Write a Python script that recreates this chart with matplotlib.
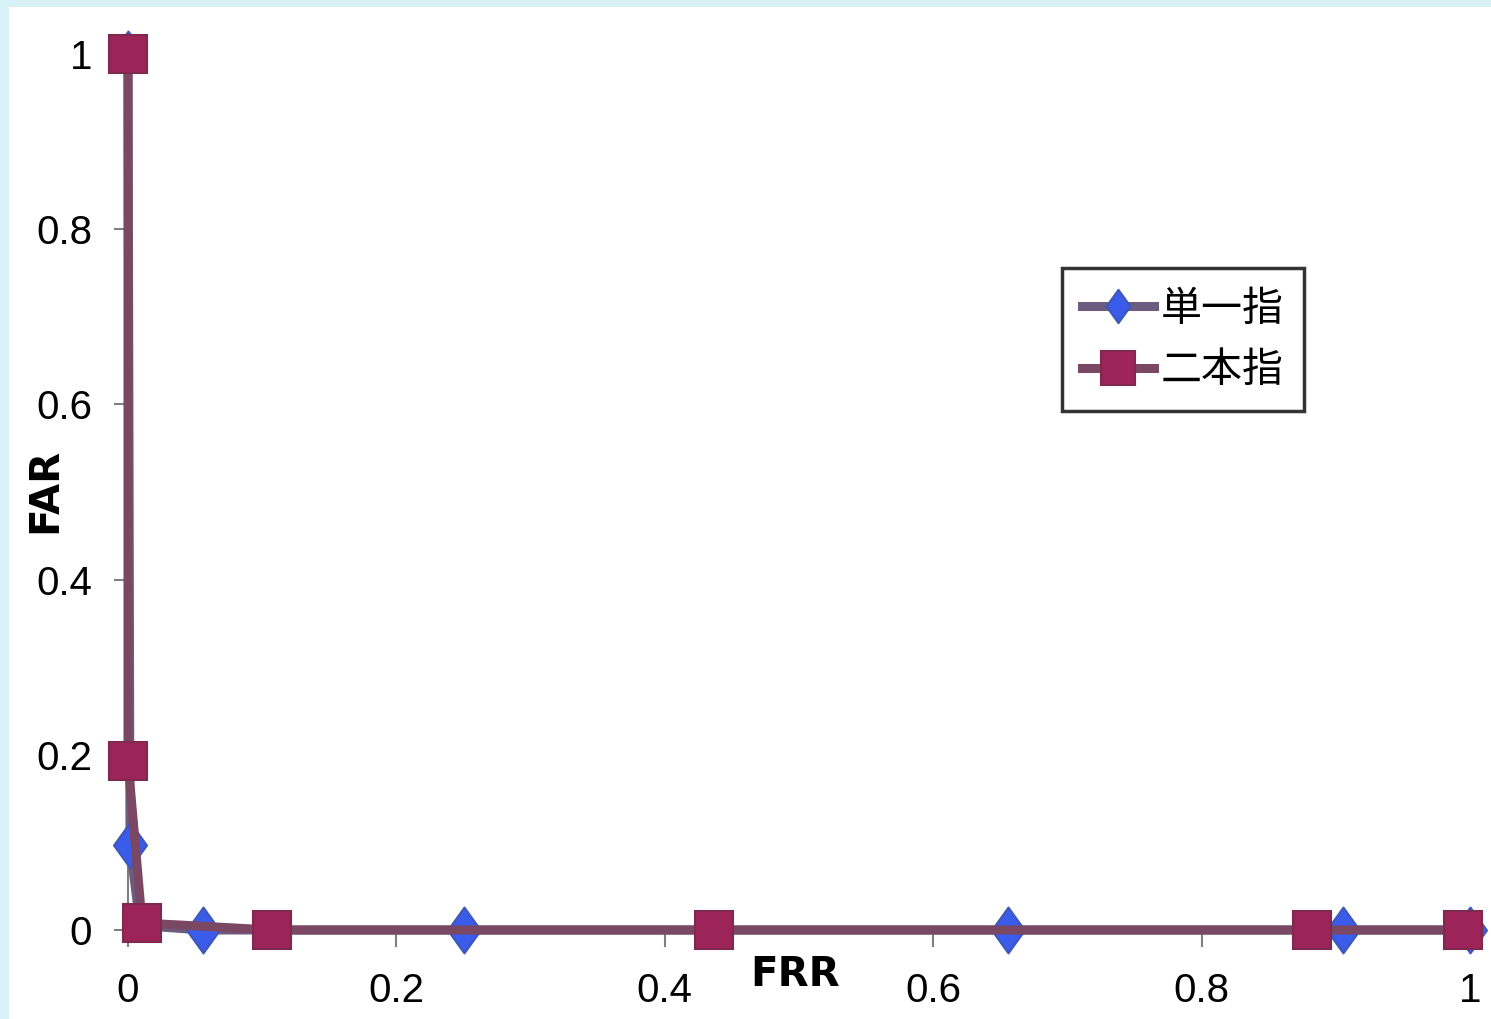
import matplotlib
matplotlib.use("Agg")
import matplotlib.pyplot as plt
from matplotlib import font_manager as fm
from matplotlib.patches import Rectangle
from matplotlib.path import Path

# Data
series_names = ["単一指", "二本指"]
single_frr = [0.0, 0.0015, 0.009, 0.056, 0.25, 0.656, 0.905, 1.0]
single_far = [1.0, 0.097, 0.005, 0.0, 0.0, 0.0, 0.0, 0.0]
double_frr = [0.0, 0.0, 0.0105, 0.107, 0.437, 0.882, 0.995]
double_far = [1.0, 0.193, 0.008, 0.0, 0.0, 0.0, 0.0]
xticks = [0, 0.2, 0.4, 0.6, 0.8, 1]
yticks = [0, 0.2, 0.4, 0.6, 0.8, 1]
xtick_labels = ["0", "0.2", "0.4", "0.6", "0.8", "1"]
ytick_labels = ["0", "0.2", "0.4", "0.6", "0.8", "1"]

tick_font = ["Liberation Sans Narrow", "Liberation Sans", "DejaVu Sans"]
cjk = "Noto Sans CJK JP"

W, H = 1491, 1019
fig = plt.figure(figsize=(W / 100, H / 100), dpi=100)
fig.patch.set_facecolor("#D8F1F6")
bg = fig.add_axes([9 / W, 0, 1 - 9 / W, 1 - 7 / H], zorder=-5)
bg.set_axis_off()
bg.add_patch(Rectangle((0, 0), 1, 1, transform=bg.transAxes, facecolor="white", edgecolor="none"))

ax = fig.add_axes([128 / W, 1 - 930 / H, (1470 - 128) / W, (930 - 54) / H])
ax.set_facecolor("none")
ax.set_xlim(0, 1)
ax.set_ylim(0, 1)

diamond = Path([(0, 1), (0.72, 0), (0, -1), (-0.72, 0), (0, 1)],
               [Path.MOVETO, Path.LINETO, Path.LINETO, Path.LINETO, Path.CLOSEPOLY])

ax.plot(single_frr, single_far, color="#6C5C80", lw=6.5, marker=diamond, ms=33,
        markerfacecolor="#3B5BEA", markeredgecolor="#3F58B8", markeredgewidth=1.5,
        markevery=[0, 1, 3, 4, 5, 6, 7],
        clip_on=False, zorder=3, label=series_names[0])
ax.plot(double_frr, double_far, color="#7A4862", lw=6.5, marker="s", ms=28,
        markerfacecolor="#9C2458", markeredgecolor="#7E2A50", markeredgewidth=1.5,
        clip_on=False, zorder=4, label=series_names[1])

for s in ["top", "right"]:
    ax.spines[s].set_visible(False)
for s in ["left", "bottom"]:
    ax.spines[s].set_color("#808080")
    ax.spines[s].set_linewidth(1.5)

ax.set_xticks(xticks)
ax.set_xticklabels(xtick_labels, fontfamily=tick_font, fontsize=29)
ax.set_yticks(yticks)
ax.set_yticklabels(ytick_labels, fontfamily=tick_font, fontsize=29)
ax.tick_params(axis="x", length=12, width=1.5, color="#808080", pad=18)
ax.tick_params(axis="y", length=10, width=1.5, color="#808080", pad=16)

ax.set_xlabel("FRR", fontsize=29, fontweight="bold", fontfamily="DejaVu Sans")
ax.xaxis.set_label_coords((795 - 128) / (1470 - 128), -(975 - 930) / (930 - 54), transform=ax.transAxes)
ax.set_ylabel("FAR", fontsize=29, fontweight="bold", fontfamily="DejaVu Sans")
ax.yaxis.set_label_coords((45 - 128) / (1470 - 128), (930 - 490) / (930 - 54), transform=ax.transAxes)
ax.xaxis.label.set_va("center")
ax.yaxis.label.set_va("center")

leg = ax.legend(loc="upper left",
                bbox_to_anchor=((1062 - 128) / (1470 - 128), (930 - 268) / (930 - 54)),
                prop=fm.FontProperties(family=cjk, size=29.5), frameon=True, fancybox=False,
                borderpad=0.5, handlelength=1.75, handletextpad=0.15, labelspacing=0.5,
                borderaxespad=0)
leg.get_frame().set_edgecolor("black")
leg.get_frame().set_linewidth(2.5)
for h in leg.legend_handles:
    h.set_markersize(24)

fig.savefig("out.png", dpi=100, facecolor=fig.get_facecolor())
